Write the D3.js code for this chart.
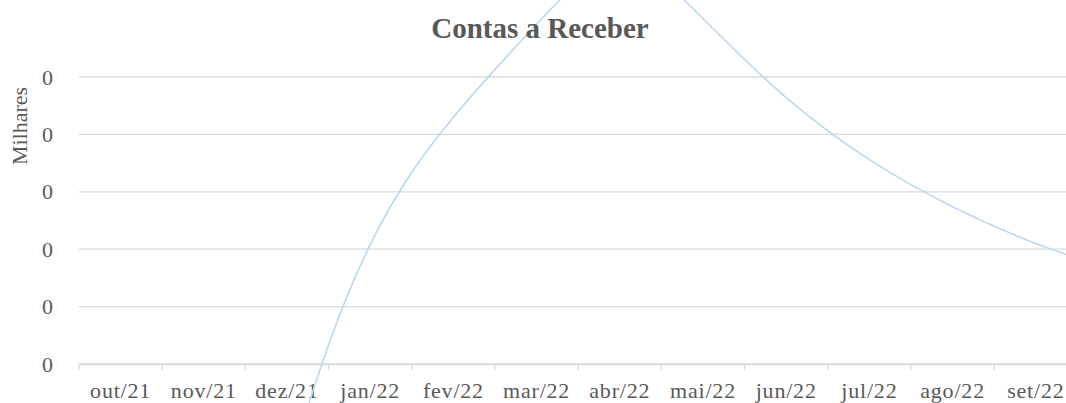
<!DOCTYPE html>
<html>
<head>
<meta charset="utf-8">
<script src="https://cdn.jsdelivr.net/npm/d3@7"></script>
<style>
  body { margin: 0; background: #fff; }
  svg text { font-family: Garamond, "Liberation Serif", serif; fill: #595959; }
</style>
</head>
<body>
<div class="chart"></div>
<script>
// meses (o último fica fora do recorte, à direita)
var months = ["out/21", "nov/21", "dez/21", "jan/22", "fev/22", "mar/22", "abr/22",
              "mai/22", "jun/22", "jul/22", "ago/22", "set/22", "out/22"];
// Contas a Receber
var receber = [-560, -380, -100, 104, 215, 296, 349, 301, 232, 178, 137, 105, 80];
// marcas do eixo Y
var yTicks = [0, 50, 100, 150, 200, 250];

var width = 1066, height = 403;
var area = {left: 79, top: 77, bottom: 364, step: 83.2};

var svg = d3.select("div.chart")
    .append("svg")
    .attr("width", width)
    .attr("height", height);

// escalas
var x = d3.scaleBand()
    .domain(months)
    .range([area.left, area.left + area.step * months.length])
    .padding(0);

var y = d3.scaleLinear()
    .domain([0, 250])
    .range([area.bottom, area.top]);

// linhas de grade
svg.append("g")
    .selectAll("line")
    .data(yTicks)
    .enter()
    .append("line")
    .attr("x1", area.left)
    .attr("x2", x.range()[1])
    .attr("y1", function(d) { return y(d); })
    .attr("y2", function(d) { return y(d); })
    .attr("stroke", "#d9d9d9")
    .attr("stroke-width", 1.3);

// eixo Y (só os rótulos, em milhares)
var yAxis = d3.axisLeft(y)
    .tickValues(yTicks)
    .tickFormat(function(d) { return d3.format(".0f")(d / 1000); })
    .tickSize(0)
    .tickPadding(26);

svg.append("g")
    .attr("transform", "translate(" + area.left + ",0)")
    .call(yAxis)
    .call(function(g) { g.select(".domain").remove(); })
    .selectAll("text")
    .style("font-size", "22px")
    .attr("fill", "#595959");

// eixo X
var xAxis = d3.axisBottom(x)
    .tickSizeInner(6)
    .tickSizeOuter(0)
    .tickPadding(12);

var gx = svg.append("g")
    .attr("transform", "translate(0," + area.bottom + ")")
    .call(xAxis);

gx.select(".domain").attr("stroke", "#d9d9d9").attr("stroke-width", 1.3);
gx.selectAll(".tick line").remove();
gx.selectAll("text")
    .style("font-size", "22px")
    .style("letter-spacing", "0.8px")
    .attr("fill", "#595959");
// o mês fora do recorte não aparece
gx.selectAll(".tick")
    .filter(function(d) { return x(d) + x.bandwidth() / 2 > width; })
    .remove();

// marcas entre as categorias
gx.selectAll("line.sep")
    .data(months)
    .enter()
    .append("line")
    .attr("class", "sep")
    .attr("x1", function(d) { return x(d); })
    .attr("x2", function(d) { return x(d); })
    .attr("y1", 0)
    .attr("y2", 6)
    .attr("stroke", "#d9d9d9")
    .attr("stroke-width", 1.3);

// linha suavizada
var line = d3.line()
    .x(function(d, i) { return x(months[i]) + x.bandwidth() / 2; })
    .y(function(d) { return y(d); })
    .curve(d3.curveNatural);

svg.append("path")
    .datum(receber)
    .attr("fill", "none")
    .attr("stroke", "#bdd7ee")
    .attr("stroke-width", 1.6)
    .attr("d", line);

// título
svg.append("text")
    .attr("x", 540)
    .attr("y", 38)
    .attr("text-anchor", "middle")
    .style("font-size", "29px")
    .style("font-weight", "bold")
    .text("Contas a Receber");

// rótulo do eixo Y
svg.append("text")
    .attr("transform", "translate(27,126) rotate(-90)")
    .attr("text-anchor", "middle")
    .style("font-size", "22px")
    .text("Milhares");
</script>
</body>
</html>
